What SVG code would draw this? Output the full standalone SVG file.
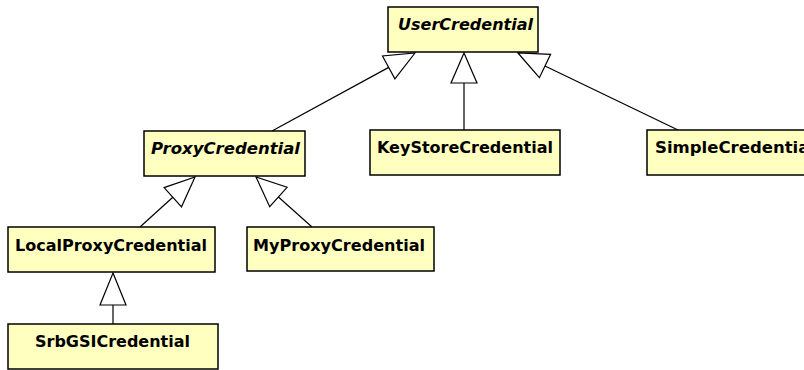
<svg xmlns="http://www.w3.org/2000/svg" width="804" height="370" viewBox="0 0 804 370">
<style>
.box{fill:#FFFFC0;stroke:#000;stroke-width:1.5}
.lbl{font-family:"DejaVu Sans","Liberation Sans",sans-serif;font-weight:bold;font-size:16px;fill:#000}
.it{font-style:italic}
.ln{stroke:#000;stroke-width:1.2;fill:none}
.hd{fill:#fff;stroke:#000;stroke-width:1.2}
</style>
<rect width="804" height="370" fill="#fff"/>
<g id="connectors">
<line class="ln" x1="388.7" y1="67.4" x2="272" y2="131"/>
<polygon class="hd" points="415,53 394.9,78.8 382.5,56"/>
<line class="ln" x1="464" y1="83" x2="464" y2="130"/>
<polygon class="hd" points="464,53 477,83 451,83"/>
<line class="ln" x1="545" y1="66" x2="678" y2="130"/>
<polygon class="hd" points="518,53 539.4,77.7 550.6,54.3"/>
<line class="ln" x1="172.8" y1="197.2" x2="140" y2="227"/>
<polygon class="hd" points="195,177 181.5,206.8 164.1,187.6"/>
<line class="ln" x1="278.4" y1="197" x2="312" y2="227"/>
<polygon class="hd" points="256,177 269.7,206.7 287.1,187.3"/>
<line class="ln" x1="113" y1="305" x2="113" y2="324"/>
<polygon class="hd" points="113,273 126,305 100,305"/>
</g>
<g id="UserCredential">
<rect class="box" x="388" y="7" width="150" height="45"/>
<text class="lbl it" x="398" y="30" textLength="135" lengthAdjust="spacingAndGlyphs">UserCredential</text>
</g>
<g id="ProxyCredential">
<rect class="box" x="144" y="131" width="161" height="45"/>
<text class="lbl it" x="151" y="154" textLength="149" lengthAdjust="spacingAndGlyphs">ProxyCredential</text>
</g>
<g id="KeyStoreCredential">
<rect class="box" x="370" y="130" width="190" height="45"/>
<text class="lbl" x="377" y="153" textLength="176" lengthAdjust="spacingAndGlyphs">KeyStoreCredential</text>
</g>
<g id="SimpleCredential">
<rect class="box" x="647" y="130" width="190" height="45"/>
<text class="lbl" x="655" y="153" textLength="160" lengthAdjust="spacingAndGlyphs">SimpleCredential</text>
</g>
<g id="LocalProxyCredential">
<rect class="box" x="8" y="227" width="207" height="45"/>
<text class="lbl" x="15" y="251" textLength="192" lengthAdjust="spacingAndGlyphs">LocalProxyCredential</text>
</g>
<g id="MyProxyCredential">
<rect class="box" x="247" y="227" width="187" height="44"/>
<text class="lbl" x="253" y="251" textLength="172" lengthAdjust="spacingAndGlyphs">MyProxyCredential</text>
</g>
<g id="SrbGSICredential">
<rect class="box" x="8" y="324" width="210" height="45"/>
<text class="lbl" x="35" y="347" textLength="155" lengthAdjust="spacingAndGlyphs">SrbGSICredential</text>
</g>
</svg>
